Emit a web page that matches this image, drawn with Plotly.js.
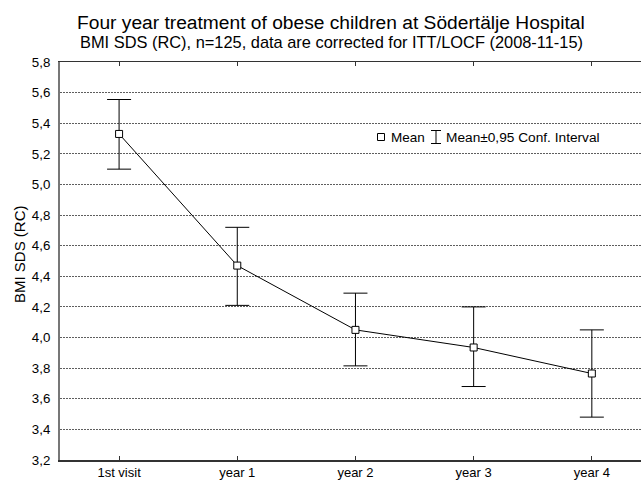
<!DOCTYPE html>
<html>
<head>
<meta charset="utf-8">
<script src="https://cdn.plot.ly/plotly-3.0.1.min.js"></script>
<style>html,body{margin:0;padding:0;background:#fff;}#chart{width:641px;height:481px;}</style>
</head>
<body>
<div id="chart"></div>
<script>
const categories = ['1st visit', 'year 1', 'year 2', 'year 3', 'year 4'];
const meanValues = [5.33, 4.47, 4.05, 3.935, 3.765];
const upperCI = [5.555, 4.72, 4.29, 4.20, 4.05];
const lowerCI = [5.10, 4.21, 3.815, 3.68, 3.48];
const yTickValues = [3.2, 3.4, 3.6, 3.8, 4.0, 4.2, 4.4, 4.6, 4.8, 5.0, 5.2, 5.4, 5.6, 5.8];
const titleText = 'Four year treatment of obese children at Södertälje Hospital';
const subtitleText = 'BMI SDS (RC), n=125, data are corrected for ITT/LOCF (2008-11-15)';
const yTitleText = 'BMI SDS (RC)';
const legendMean = 'Mean';
const legendCI = 'Mean±0,95 Conf. Interval';

const FONT = 'Liberation Sans, Arial, sans-serif';

const errPlus = upperCI.map((u, i) => u - meanValues[i]);
const errMinus = lowerCI.map((l, i) => meanValues[i] - l);

const trace = {
  type: 'scatter',
  mode: 'lines+markers',
  x: categories,
  y: meanValues,
  line: {color: '#000', width: 1},
  marker: {symbol: 'square', size: 7, color: '#fff', line: {color: '#000', width: 1}},
  error_y: {type: 'data', symmetric: false, array: errPlus, arrayminus: errMinus,
            color: '#000', thickness: 1, width: 12},
  showlegend: false,
  cliponaxis: false
};

// plot area in pixels: left 60, right 641, top 62, bottom 460
const L = 60, R = 641, T = 62, B = 460;
const px = v => (v - L) / (R - L);
const py = v => (B - v) / (B - T);

const layout = {
  width: 641, height: 481,
  margin: {l: L, r: 641 - R, t: T, b: 481 - B, pad: 0},
  paper_bgcolor: '#fff', plot_bgcolor: '#fff',
  separators: ',.',
  font: {family: FONT, size: 13, color: '#000'},
  xaxis: {
    type: 'category',
    categoryorder: 'array', categoryarray: categories,
    range: [-0.5, 4.416],
    showgrid: false, zeroline: false,
    showline: true, linecolor: '#333', linewidth: 1.5,
    mirror: 'ticks',
    ticks: 'inside', ticklen: 4, tickcolor: '#333', tickwidth: 1,
    ticklabelstandoff: 0,
    tickfont: {family: FONT, size: 13, color: '#000'},
    fixedrange: true
  },
  yaxis: {
    range: [3.2, 5.8],
    tickvals: yTickValues,
    tickformat: '.1f',
    showgrid: true, gridcolor: '#5e5e5e', gridwidth: 1, griddash: '2px,1px',
    zeroline: false,
    showline: true, linecolor: '#777', linewidth: 2,
    ticks: '',
    ticklabelstandoff: 5,
    tickfont: {family: FONT, size: 13.3, color: '#000'},
    fixedrange: true
  },
  annotations: [
    {xref: 'paper', yref: 'paper', x: px(331), y: py(22), xanchor: 'center', yanchor: 'middle',
     text: titleText, showarrow: false, font: {family: FONT, size: 19.2, color: '#000'}},
    {xref: 'paper', yref: 'paper', x: px(331), y: py(42), xanchor: 'center', yanchor: 'middle',
     text: subtitleText, showarrow: false, font: {family: FONT, size: 16.4, color: '#000'}},
    {xref: 'paper', yref: 'paper', x: px(19), y: py(254), xanchor: 'center', yanchor: 'middle',
     textangle: -90, text: yTitleText, showarrow: false, font: {family: FONT, size: 15, color: '#000'}},
    {xref: 'paper', yref: 'paper', x: px(389), y: py(137), xanchor: 'left', yanchor: 'middle',
     text: legendMean, showarrow: false, font: {family: FONT, size: 13.5, color: '#000'}},
    {xref: 'paper', yref: 'paper', x: px(444), y: py(137), xanchor: 'left', yanchor: 'middle',
     text: legendCI, showarrow: false, font: {family: FONT, size: 13.7, color: '#000'}}
  ],
  shapes: [
    // legend: mean marker
    {type: 'rect', xref: 'paper', yref: 'paper', xsizemode: 'pixel', ysizemode: 'pixel',
     xanchor: px(381), yanchor: py(137), x0: -3.5, x1: 3.5, y0: -3.5, y1: 3.5,
     line: {color: '#000', width: 1}, fillcolor: '#fff'},
    // legend: CI I-beam
    {type: 'line', xref: 'paper', yref: 'paper', xsizemode: 'pixel', ysizemode: 'pixel',
     xanchor: px(436), yanchor: py(137), x0: 0, x1: 0, y0: -6.5, y1: 6.5, line: {color: '#000', width: 1}},
    {type: 'line', xref: 'paper', yref: 'paper', xsizemode: 'pixel', ysizemode: 'pixel',
     xanchor: px(436), yanchor: py(137), x0: -5, x1: 5, y0: 6.5, y1: 6.5, line: {color: '#000', width: 1}},
    {type: 'line', xref: 'paper', yref: 'paper', xsizemode: 'pixel', ysizemode: 'pixel',
     xanchor: px(436), yanchor: py(137), x0: -5, x1: 5, y0: -6.5, y1: -6.5, line: {color: '#000', width: 1}}
  ]
};

Plotly.newPlot('chart', [trace], layout, {displayModeBar: false, staticPlot: true});
</script>
</body>
</html>
